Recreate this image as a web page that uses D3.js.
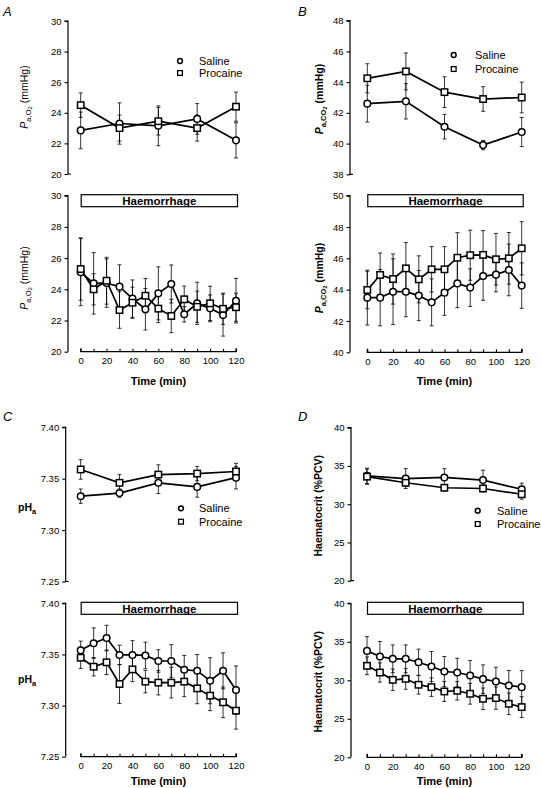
<!DOCTYPE html>
<html><head><meta charset="utf-8">
<script src="https://cdn.jsdelivr.net/npm/d3@7/dist/d3.min.js"></script>
<style>body{margin:0;background:#fff} svg{display:block} text{font-family:"Liberation Sans",Arial,sans-serif;fill:#000}</style>
</head><body>
<svg id="c" width="542" height="788"></svg>
<script>
// ---------- DATA ----------
const preTimes = [0, 30, 60, 90, 120];
const haemTimes = [0, 10, 20, 30, 40, 50, 60, 70, 80, 90, 100, 110, 120];
const seriesNames = ["Saline", "Procaine"];

// Panel A – PaO2 (mmHg)
const paO2PreSaline      = [22.85, 23.3, 23.15, 23.6, 22.2];
const paO2PreSalineErr   = [1.2, 1.35, 1.3, 1.0, 1.15];
const paO2PreProcaine    = [24.5, 23.0, 23.45, 23.0, 24.4];
const paO2PreProcaineErr = [0.8, 0.85, 0.9, 0.85, 0.95];
const paO2HaemSaline      = [25.1, 24.38, 24.4, 24.17, 23.4, 22.72, 23.74, 24.34, 22.4, 23.1, 22.78, 22.35, 23.27];
const paO2HaemSalineErr   = [2.15, 1.97, 1.55, 1.4, 1.2, 1.33, 1.7, 1.22, 0.5, 1.35, 0.86, 1.35, 1.43];
const paO2HaemProcaine    = [25.3, 24.0, 24.55, 22.67, 23.14, 23.59, 22.76, 22.29, 23.36, 22.88, 23.1, 22.75, 22.85];
const paO2HaemProcaineErr = [2.0, 1.0, 1.5, 1.17, 1.0, 1.1, 0.9, 1.07, 0.85, 1.0, 1.1, 1.0, 0.9];

// Panel B – PaCO2 (mmHg)
const paCO2PreSaline      = [42.6, 42.75, 41.1, 39.9, 40.75];
const paCO2PreSalineErr   = [1.2, 1.15, 0.8, 0.3, 0.95];
const paCO2PreProcaine    = [44.25, 44.7, 43.35, 42.9, 43.0];
const paCO2PreProcaineErr = [0.95, 1.2, 1.0, 0.8, 1.0];
const paCO2HaemSaline      = [43.49, 43.49, 43.87, 43.87, 43.62, 43.19, 43.81, 44.4, 44.13, 44.87, 44.96, 45.26, 44.26];
const paCO2HaemSalineErr   = [1.75, 1.8, 2.1, 1.6, 1.6, 1.5, 1.45, 1.55, 1.2, 1.55, 1.1, 1.65, 1.45];
const paCO2HaemProcaine    = [43.98, 44.94, 44.68, 45.36, 44.66, 45.3, 45.3, 46.04, 46.2, 46.22, 45.94, 46.0, 46.64];
const paCO2HaemProcaineErr = [1.2, 1.4, 1.6, 1.65, 1.5, 1.45, 1.45, 1.6, 1.6, 1.55, 1.65, 1.65, 1.7];

// Panel C – pHa
const phPreSaline      = [7.333, 7.336, 7.346, 7.342, 7.351];
const phPreSalineErr   = [0.007, 0.004, 0.0105, 0.01, 0.011];
const phPreProcaine    = [7.359, 7.346, 7.354, 7.355, 7.357];
const phPreProcaineErr = [0.0095, 0.008, 0.0095, 0.007, 0.008];
const phHaemSaline      = [7.354, 7.361, 7.366, 7.3495, 7.3495, 7.349, 7.3436, 7.3436, 7.335, 7.334, 7.3243, 7.334, 7.3152];
const phHaemSalineErr   = [0.009, 0.015, 0.0125, 0.0095, 0.014, 0.013, 0.011, 0.016, 0.014, 0.016, 0.0225, 0.0176, 0.0235];
const phHaemProcaine    = [7.3468, 7.338, 7.3423, 7.3211, 7.3354, 7.3234, 7.3224, 7.3224, 7.3234, 7.3168, 7.3097, 7.3032, 7.295];
const phHaemProcaineErr = [0.0105, 0.009, 0.012, 0.019, 0.012, 0.011, 0.012, 0.015, 0.0147, 0.015, 0.0147, 0.015, 0.018];

// Panel D – Haematocrit (%PCV)
const hctPreSaline      = [33.7, 33.35, 33.5, 33.15, 31.95];
const hctPreSalineErr   = [1.0, 1.3, 1.15, 1.3, 0.8];
const hctPreProcaine    = [33.6, 32.8, 32.15, 32.05, 31.3];
const hctPreProcaineErr = [1.0, 0.5, 0.4, 0.43, 0.65];
const hctHaemSaline      = [33.82, 33.09, 32.79, 32.79, 32.35, 31.79, 31.14, 31.01, 30.63, 30.15, 29.85, 29.33, 29.11];
const hctHaemSalineErr   = [1.85, 1.95, 1.8, 1.8, 1.7, 1.95, 1.95, 1.85, 1.95, 1.85, 1.85, 1.95, 2.15];
const hctHaemProcaine    = [31.88, 31.01, 30.06, 30.19, 29.42, 29.11, 28.55, 28.64, 28.25, 27.6, 27.69, 26.95, 26.52];
const hctHaemProcaineErr = [1.15, 1.25, 1.4, 1.35, 1.2, 1.2, 1.3, 1.2, 1.35, 1.4, 1.45, 1.4, 1.35];

// Tick values
const paO2Ticks = [20, 22, 24, 26, 28, 30];
const paCO2PreTicks = [38, 40, 42, 44, 46, 48];
const paCO2HaemTicks = [40, 42, 44, 46, 48, 50];
const phTicks = [7.25, 7.30, 7.35, 7.40];
const hctTicks = [20, 25, 30, 35, 40];
const timeTickLabels = [0, 20, 40, 60, 80, 100, 120];
const panelLetters = ["A", "B", "C", "D"];

// ---------- DRAW ----------
const svg = d3.select("#c");

function drawPanel(o) {
  const g = svg.append("g");
  const x = d3.scaleLinear().domain([0, 120]).range([o.tx0, o.tx1]);
  const y = d3.scaleLinear().domain(o.domain).range([o.yBot, o.yTop]);

  // y axis
  const ya = d3.axisLeft(y).tickValues(o.ticks).tickSize(3.5).tickPadding(3)
    .tickFormat(o.fmt || (d => d));
  const yg = g.append("g").attr("transform", `translate(${o.ax},0)`).call(ya);
  yg.select(".domain").attr("stroke", "#000").attr("stroke-width", 1.2)
    .attr("d", `M-3.5,${y(o.domain[1])}H0V${y(o.domain[0])}H${o.foot ? 3 : 0}`);
  yg.selectAll(".tick line").attr("stroke", "#000").attr("stroke-width", 1.1);
  yg.selectAll(".tick text").attr("font-size", 9.5).attr("font-family", '"Liberation Sans",Arial,sans-serif');

  // x axis (haemorrhage panels)
  if (o.xAxis) {
    const xa = d3.axisBottom(x).tickValues(haemTimes).tickSize(-3).tickPadding(6)
      .tickFormat(d => timeTickLabels.includes(d) ? d : "");
    const xg = g.append("g").attr("transform", `translate(0,${o.yBot})`).call(xa);
    xg.select(".domain").attr("stroke", "#000").attr("stroke-width", 1.2)
      .attr("d", `M${o.tx0},-3.5V0H${o.tx1}V-3.5`);
    xg.selectAll(".tick line").attr("stroke", "#000").attr("stroke-width", 1.1);
    xg.selectAll(".tick text").attr("font-size", 9.5).attr("font-family", '"Liberation Sans",Arial,sans-serif');
    g.append("text").attr("x", (o.tx0 + o.tx1) / 2).attr("y", o.yBot + o.timeDy)
      .attr("text-anchor", "middle").attr("font-size", 11).attr("font-weight", "bold")
      .text("Time (min)");
    // Haemorrhage box
    g.append("rect").attr("x", o.tx0 + 0.5).attr("y", o.yTop - 1)
      .attr("width", o.tx1 - o.tx0 + 1).attr("height", 12)
      .attr("fill", "#fff").attr("stroke", "#000").attr("stroke-width", 1.2);
    g.append("text").attr("x", (o.tx0 + o.tx1) / 2 + 1).attr("y", o.yTop + 9.3)
      .attr("text-anchor", "middle").attr("font-size", 11.5).attr("font-weight", "bold")
      .text("Haemorrhage");
  }

  const series = [
    { v: o.sal, e: o.salErr, shape: "circle" },
    { v: o.pro, e: o.proErr, shape: "square" }
  ];
  // error bars
  series.forEach(s => {
    const eg = g.append("g").attr("stroke", "#000").attr("stroke-width", 0.8);
    o.times.forEach((t, i) => {
      const cx = x(t), y1 = y(s.v[i] - s.e[i]), y2 = y(s.v[i] + s.e[i]);
      eg.append("line").attr("x1", cx).attr("x2", cx).attr("y1", y1).attr("y2", y2);
      eg.append("line").attr("x1", cx - 2).attr("x2", cx + 2).attr("y1", y1).attr("y2", y1);
      eg.append("line").attr("x1", cx - 2).attr("x2", cx + 2).attr("y1", y2).attr("y2", y2);
    });
  });
  // lines
  const line = d3.line().x(d => x(d[0])).y(d => y(d[1]));
  series.forEach(s => {
    g.append("path").datum(o.times.map((t, i) => [t, s.v[i]]))
      .attr("d", line).attr("fill", "none").attr("stroke", "#000").attr("stroke-width", 1.7);
  });
  // markers
  series.forEach(s => {
    o.times.forEach((t, i) => {
      const cx = x(t), cy = y(s.v[i]);
      if (s.shape === "circle") {
        g.append("circle").attr("cx", cx).attr("cy", cy).attr("r", 3.3)
          .attr("fill", "#fff").attr("stroke", "#000").attr("stroke-width", 1.5);
      } else {
        g.append("rect").attr("x", cx - 3.2).attr("y", cy - 3.2).attr("width", 6.4).attr("height", 6.4)
          .attr("fill", "#fff").attr("stroke", "#000").attr("stroke-width", 1.5);
      }
    });
  });
}

function legend(mx, y1, y2, tx) {
  const g = svg.append("g");
  g.append("circle").attr("cx", mx).attr("cy", y1).attr("r", 2.4)
    .attr("fill", "#fff").attr("stroke", "#000").attr("stroke-width", 1.5);
  g.append("rect").attr("x", mx - 2.4).attr("y", y2 - 2.4).attr("width", 4.8).attr("height", 4.8)
    .attr("fill", "#fff").attr("stroke", "#000").attr("stroke-width", 1.3);
  g.append("text").attr("x", tx).attr("y", y1 + 4).attr("font-size", 11).text(seriesNames[0]);
  g.append("text").attr("x", tx).attr("y", y2 + 4).attr("font-size", 11).text(seriesNames[1]);
}

function gasLabel(cx, cy, sub, bold) {
  const t = svg.append("text").attr("transform", `translate(${cx},${cy}) rotate(-90)`)
    .attr("text-anchor", "middle").attr("font-size", 10.5)
    .attr("font-weight", bold ? "bold" : "normal");
  t.append("tspan").attr("font-style", "italic").text("P");
  t.append("tspan").attr("font-size", 7.5).attr("dy", 2.5).text("a," + sub);
  t.append("tspan").attr("font-size", 6).attr("dy", 1.5).text("2");
  t.append("tspan").attr("dy", -4).text(" (mmHg)");
}
function phLabel(x0, cy) {
  const t = svg.append("text").attr("x", x0).attr("y", cy + 3).attr("font-size", 10.5).attr("font-weight", "bold");
  t.append("tspan").text("pH");
  t.append("tspan").attr("font-size", 7.5).attr("dy", 2.5).text("a");
}
function hctLabel(cx, cy) {
  svg.append("text").attr("transform", `translate(${cx},${cy}) rotate(-90)`)
    .attr("text-anchor", "middle").attr("font-size", 10.5).attr("font-weight", "bold")
    .text("Haematocrit (%PCV)");
}

// Panel A
drawPanel({ ax: 68, tx0: 80.7, tx1: 236, yTop: 21, yBot: 174, domain: [20, 30], ticks: paO2Ticks,
  times: preTimes, sal: paO2PreSaline, salErr: paO2PreSalineErr, pro: paO2PreProcaine, proErr: paO2PreProcaineErr, foot: true });
drawPanel({ ax: 68, tx0: 80.7, tx1: 236, yTop: 195.7, yBot: 351.7, domain: [20, 30], ticks: paO2Ticks, xAxis: true, timeDy: 33,
  times: haemTimes, sal: paO2HaemSaline, salErr: paO2HaemSalineErr, pro: paO2HaemProcaine, proErr: paO2HaemProcaineErr });
// Panel B
drawPanel({ ax: 350, tx0: 367.3, tx1: 521.7, yTop: 20.7, yBot: 174.3, domain: [38, 48], ticks: paCO2PreTicks,
  times: preTimes, sal: paCO2PreSaline, salErr: paCO2PreSalineErr, pro: paCO2PreProcaine, proErr: paCO2PreProcaineErr, foot: true });
drawPanel({ ax: 350, tx0: 367.3, tx1: 521.7, yTop: 195.7, yBot: 352.3, domain: [40, 50], ticks: paCO2HaemTicks, xAxis: true, timeDy: 33,
  times: haemTimes, sal: paCO2HaemSaline, salErr: paCO2HaemSalineErr, pro: paCO2HaemProcaine, proErr: paCO2HaemProcaineErr });
// Panel C
const fmt2 = d3.format(".2f");
drawPanel({ ax: 65.7, tx0: 80.7, tx1: 236, yTop: 427.3, yBot: 581.5, domain: [7.25, 7.40], ticks: phTicks, fmt: fmt2,
  times: preTimes, sal: phPreSaline, salErr: phPreSalineErr, pro: phPreProcaine, proErr: phPreProcaineErr, foot: true });
drawPanel({ ax: 65.7, tx0: 80.7, tx1: 236, yTop: 603.3, yBot: 756.7, domain: [7.25, 7.40], ticks: phTicks, fmt: fmt2, xAxis: true, timeDy: 28,
  times: haemTimes, sal: phHaemSaline, salErr: phHaemSalineErr, pro: phHaemProcaine, proErr: phHaemProcaineErr });
// Panel D
drawPanel({ ax: 351, tx0: 367, tx1: 521.7, yTop: 427.7, yBot: 580.7, domain: [20, 40], ticks: hctTicks,
  times: preTimes, sal: hctPreSaline, salErr: hctPreSalineErr, pro: hctPreProcaine, proErr: hctPreProcaineErr, foot: true });
drawPanel({ ax: 351, tx0: 367, tx1: 521.7, yTop: 603.3, yBot: 757.3, domain: [20, 40], ticks: hctTicks, xAxis: true, timeDy: 28,
  times: haemTimes, sal: hctHaemSaline, salErr: hctHaemSalineErr, pro: hctHaemProcaine, proErr: hctHaemProcaineErr });

// Legends
legend(180, 61, 73, 199);
legend(453.7, 55, 69, 475);
legend(181, 508.3, 521.7, 199);
legend(477.7, 510.7, 524, 497);

// Axis labels
gasLabel(28, 97, "O", false);
gasLabel(28, 278, "O", false);
gasLabel(323, 99, "CO", true);
gasLabel(323, 278, "CO", true);
phLabel(18, 508);
phLabel(18, 680);
hctLabel(322, 505.7);
hctLabel(322, 681.7);

// Panel letters
[[3, 16], [298, 16], [3, 421], [298, 421]].forEach((p, i) => {
  svg.append("text").attr("x", p[0]).attr("y", p[1]).attr("font-size", 13)
    .attr("font-style", "italic").text(panelLetters[i]);
});
</script>
</body></html>
